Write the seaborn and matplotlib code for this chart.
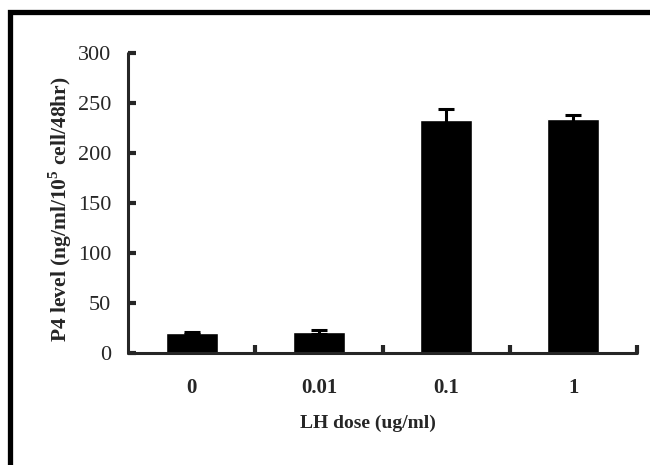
import numpy as np
import pandas as pd
import matplotlib
matplotlib.use("Agg")
import matplotlib.pyplot as plt
import seaborn as sns
from matplotlib.patches import Rectangle

# values
doses = ["0", "0.01", "0.1", "1"]
p4_mean = [20.0, 21.0, 233.0, 234.0]
p4_err = [1.2, 1.8, 11.0, 3.8]

df = pd.DataFrame({"dose": doses, "p4": p4_mean})

sns.set_style("white")
plt.rcParams["font.family"] = ["Liberation Serif", "DejaVu Serif"]
plt.rcParams["mathtext.fontset"] = "custom"
plt.rcParams["mathtext.rm"] = "Liberation Serif"
plt.rcParams["mathtext.bf"] = "Liberation Serif:bold"

fig = plt.figure(figsize=(6.5, 4.65), dpi=100)
ax = fig.add_axes([0.197, 0.241, 0.783, 0.645])

sns.barplot(data=df, x="dose", y="p4", color="black", width=0.41,
            errorbar=None, saturation=1, ax=ax)
ax.errorbar(np.arange(len(doses)), p4_mean, yerr=p4_err, fmt="none",
            ecolor="black", elinewidth=2.2, capsize=5.5, capthick=2.2)

ax.set_xlim(-0.5, 3.5)
ax.set_ylim(0, 300)
ax.set_yticks(np.arange(0, 301, 50))

# category ticks sit between the bars
ax.set_xticks(np.arange(0.5, 3.6, 1.0))
ax.set_xticklabels([])
ax.set_xticks(np.arange(len(doses)), minor=True)
ax.set_xticklabels(doses, minor=True, fontweight="bold", fontsize=15)
ax.tick_params(axis="x", which="minor", bottom=False, length=0, pad=18)
ax.tick_params(axis="x", which="major", bottom=True, direction="in", length=6, width=3)
ax.tick_params(axis="y", left=True, direction="in", length=6, width=3,
               labelsize=16, pad=12)

for side in ["top", "right"]:
    ax.spines[side].set_visible(False)
for side in ["left", "bottom"]:
    ax.spines[side].set_linewidth(2.2)
    ax.spines[side].set_capstyle("round")

ax.set_xlabel("LH dose (ug/ml)", fontweight="bold", fontsize=14, labelpad=12)
ax.xaxis.set_label_coords(0.472, -0.205)
ax.set_ylabel(r"P4 level (ng/ml/10$^\mathbf{5}$ cell/48hr)", fontweight="bold",
              fontsize=15.5)
ax.yaxis.set_label_coords(-0.107, 0.48)

# outer frame, only its left and top edges fall inside the picture
fig.patches.append(Rectangle((0.016, -0.2), 1.3, 1.175, transform=fig.transFigure,
                             fill=False, edgecolor="black", linewidth=3.8))

fig.savefig("out.png", dpi=100)
